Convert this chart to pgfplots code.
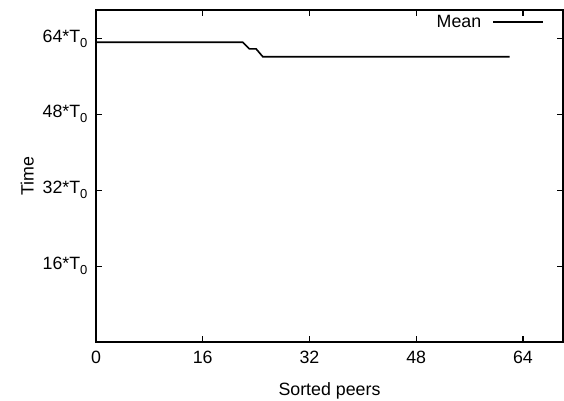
\documentclass[border=0pt]{standalone}
\usepackage{pgfplots}
\pgfplotsset{compat=1.18}
\usepackage{fontspec}
\setmainfont{Liberation Sans}
\newcommand{\Tz}{T\raisebox{-5pt}{\fontsize{13}{13}\selectfont 0}}
\begin{document}
\begin{tikzpicture}[font=\fontsize{17.8}{21}\selectfont]
\begin{axis}[
  scale only axis,
  width=467pt, height=332pt,
  xmin=0, xmax=70, ymin=0, ymax=70,
  xtick={0,16,32,48,64},
  ytick={16,32,48,64},
  yticklabels={16*\Tz,32*\Tz,48*\Tz,64*\Tz},
  /pgf/number format/assume math mode=true,
  tick align=inside,
  major tick length=6pt,
  axis line style={line width=1.6pt},
  tick style={line width=1.2pt, black},
  xlabel={Sorted peers},
  ylabel={Time},
  xticklabel style={yshift=-6pt},
  yticklabel style={xshift=-5pt},
  xlabel style={at={(axis description cs:0.5,0)}, anchor=north, yshift=-37pt},
  ylabel style={at={(axis description cs:-0.147,0.5)}, anchor=center},
  legend style={at={(1,1)}, anchor=north east, xshift=-16pt, yshift=-1pt, draw=none, fill=none, font=\fontsize{17.8}{21}\selectfont},
  legend plot pos=right,
  legend image code/.code={\draw[#1] (0pt,0pt) -- (50pt,0pt);},
  clip=false,
]
\addplot[black, line width=1.6pt] coordinates {
(0,63.2) (22,63.2) (23,61.8) (24,61.8) (25,60.15) (62,60.15)
};
\addlegendentry{Mean\kern9pt}
\coordinate (SW) at (rel axis cs:0,0);
\coordinate (NE) at (rel axis cs:1,1);
\end{axis}
\pgfresetboundingbox
\path ([shift={(-96pt,-59pt)}]SW) rectangle ([shift={(1pt,10pt)}]NE);
\end{tikzpicture}
\end{document}
